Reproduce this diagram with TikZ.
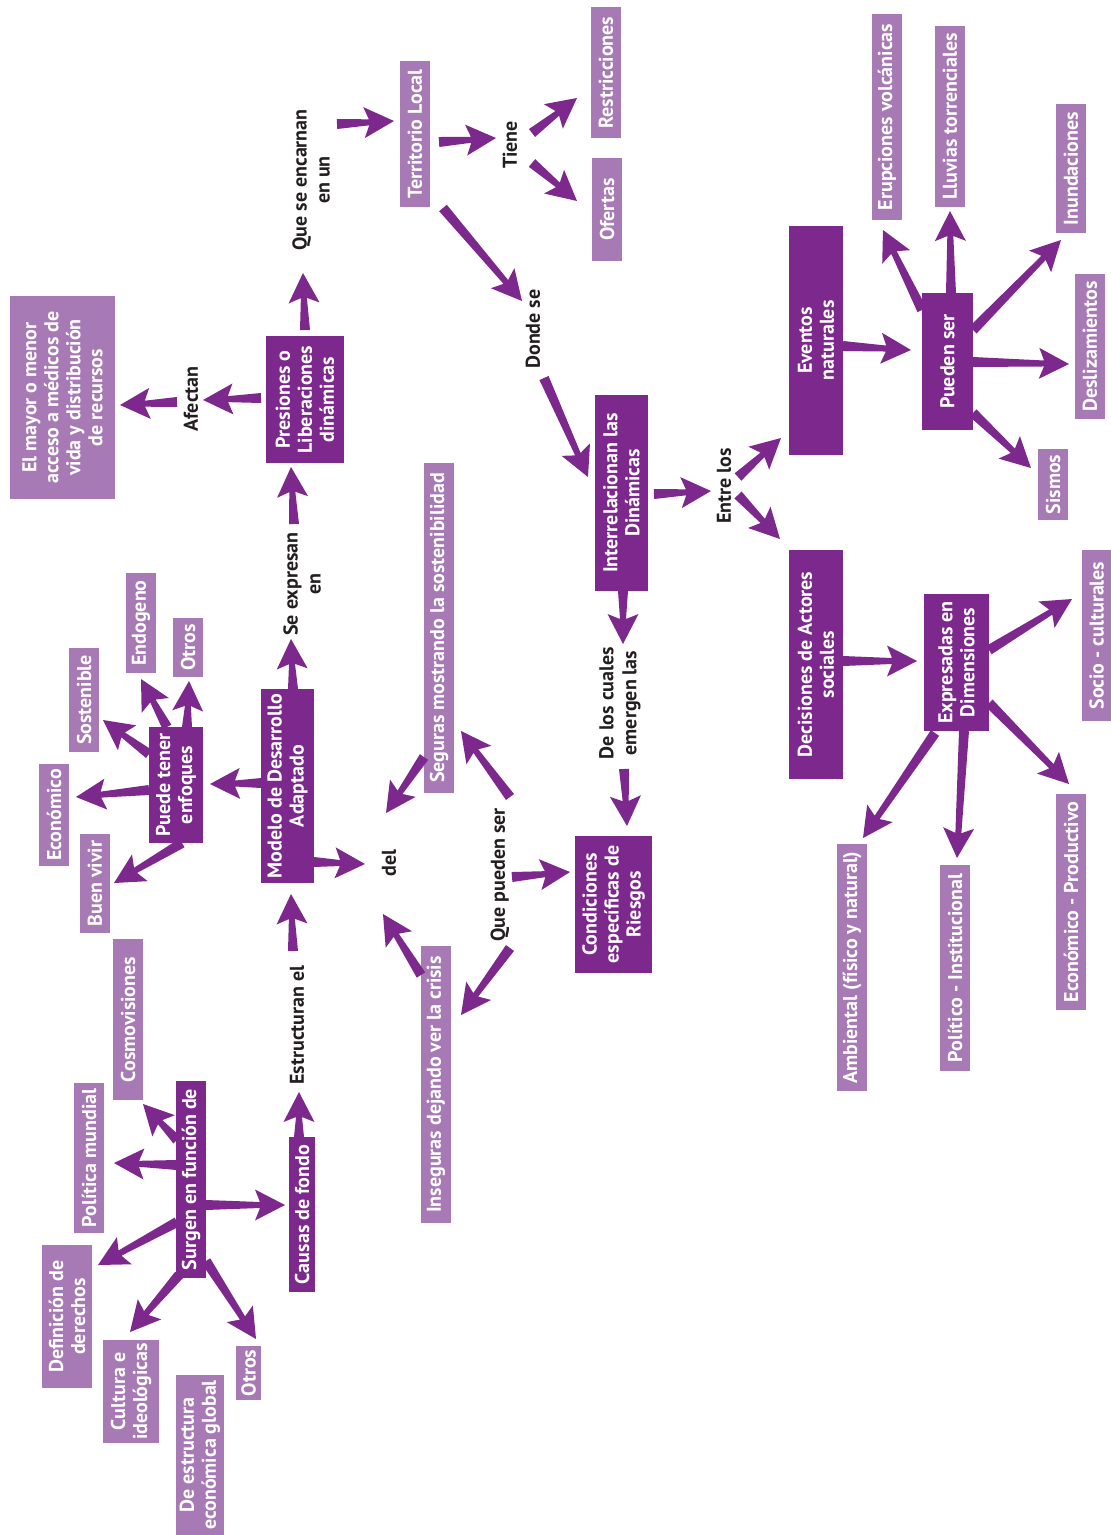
\documentclass[tikz,border=0pt]{standalone}
\usepackage{fontspec}
\setmainfont{PT Sans}
\usetikzlibrary{calc}
\definecolor{lboxc}{HTML}{A779B5}
\definecolor{dboxc}{HTML}{7D288C}
\definecolor{arrc}{HTML}{7D288C}
\definecolor{inkc}{HTML}{231F20}
\newcommand\arTw{5pt}
\newcommand\arNw{3pt}
\newcommand\arHl{30pt}
\newcommand\arHw{15.5pt}
\newcommand\arNd{25pt}
\newcommand\tarr[2]{%
  \path (#1) coordinate (ta) (#2) coordinate (tb);
  \fill[arrc] ($(ta)!\arTw!90:(tb)$)
    -- ($(tb)!\arNd!(ta)!\arNw!90:(tb)$)
    -- ($(tb)!\arHl!(ta)!\arHw!90:(tb)$)
    -- (tb)
    -- ($(tb)!\arHl!(ta)!\arHw!-90:(tb)$)
    -- ($(tb)!\arNd!(ta)!\arNw!-90:(tb)$)
    -- ($(ta)!\arTw!-90:(tb)$) -- cycle;}
\tikzset{
  bx/.style 2 args={minimum width=#1pt, minimum height=#2pt},
  basebox/.style={rotate=90, inner sep=0pt, align=center, text=white,
    font=\fontsize{20}{22}\selectfont\bfseries},
  lb/.style={basebox, fill=lboxc},
  db/.style={basebox, fill=dboxc},
  lab/.style={rotate=90, inner sep=0pt, align=center, text=inkc,
    font=\fontsize{20}{23}\selectfont\bfseries},
}
\begin{document}
\begin{tikzpicture}[x=1pt, y=-1pt]
\fill[white] (0,0) rectangle (1111,1535);
\useasboundingbox (0,0) rectangle (1111,1535);

% light boxes
\node[lb, bx={146}{30}] (terr) at (415,134) {Territorio Local};
\node[lb, bx={131}{30}] (restr) at (606,72.5) {Restricciones};
\node[lb, bx={103}{30}] (ofer) at (607,209.5) {Ofertas};
\node[lb, bx={206}{30}] (erup) at (887,117) {Erupciones volcánicas};
\node[lb, bx={181}{30}] (lluv) at (950,116.5) {Lluvias torrenciales};
\node[lb, bx={129}{30}] (inun) at (1071,168.5) {Inundaciones};
\node[lb, bx={145}{30}] (desl) at (1090,346.5) {Deslizamientos};
\node[lb, bx={71}{30}] (sism) at (1053,484.5) {Sismos};
\node[lb, bx={171}{29}] (socio) at (1096.5,635.5) {Socio - culturales};
\node[lb, bx={216}{30}] (econp) at (1071,902) {Económico - Productivo};
\node[lb, bx={206}{30}] (polit) at (955,968) {Político - Institucional};
\node[lb, bx={247}{30}] (amb) at (852,967.5) {Ambiental (físico y natural)};
\node[lb, bx={330}{30}] (seg) at (439,628) {Seguras mostrando la sostenibilidad};
\node[lb, bx={277}{30}] (inseg) at (436,1084.5) {Inseguras dejando ver la crisis};
\node[lb, bx={203}{105}] (elmay) at (62.5,397.5) {El mayor o menor\\acceso a médicos de\\vida y distribución\\de recursos};
\node[lb, bx={104}{30}] (sost) at (84,700) {Sostenible};
\node[lb, bx={100}{30}] (endo) at (141,623) {Endogeno};
\node[lb, bx={59}{30}] (otrosa) at (188,647.5) {Otros};
\node[lb, bx={102}{30}] (econ) at (54,815) {Económico};
\node[lb, bx={99}{30}] (buen) at (95,883.5) {Buen vivir};
\node[lb, bx={161}{30}] (cosmo) at (128,1019.5) {Cosmovisiones};
\node[lb, bx={150}{30}] (polm) at (89,1158) {Política mundial};
\node[lb, bx={143}{50}] (defd) at (67,1316.5) {Definición de\\derechos};
\node[lb, bx={103}{56}] (cult) at (131,1391.5) {Cultura e\\ideológicas};
\node[lb, bx={160}{48}] (dee) at (200,1455) {De estructura\\económica global};
\node[lb, bx={54}{25}] (otrosb) at (248.5,1373) {Otros};

% dark boxes
\node[db, bx={127}{78}] (pres) at (305,399.5) {Presiones o\\Liberaciones\\dinámicas};
\node[db, bx={196}{53}] (inter) at (621.5,493) {Interrelacionan las\\Dinámicas};
\node[db, bx={229}{54}] (event) at (816,340.5) {Eventos\\naturales};
\node[db, bx={137}{51}] (pued) at (947.5,361.5) {Pueden ser};
\node[db, bx={229}{54}] (decis) at (816,664.5) {Decisiones de Actores\\sociales};
\node[db, bx={137}{65}] (expr) at (956.5,662.5) {Expresadas en\\Dimensiones};
\node[db, bx={137}{77}] (cond) at (613.5,904.5) {Condiciones\\específicas de\\Riesgos};
\node[db, bx={194}{53}] (model) at (287.5,786) {Modelo de Desarrollo\\Adaptado};
\node[db, bx={116}{54}] (puede) at (176,785) {Puede tener\\enfoques};
\node[db, bx={155}{26}] (causas) at (302,1214.5) {Causas de fondo};
\node[db, bx={197}{30}] (surgen) at (191,1179.5) {Surgen en función de};

% labels
\node[lab] (encarn) at (311,180) {Que se encarnan\\en un};
\node[lab] (tiene) at (510,145) {Tiene};
\node[lab] (donde) at (533,329) {Donde se};
\node[lab] (entre) at (724,486) {Entre los};
\node[lab] (delos) at (620,703) {De los cuales\\emergen las};
\node[lab] (quep) at (500,875) {Que pueden ser};
\node[lab] (del) at (389,863) {del};
\node[lab] (sexp) at (302,584) {Se expresan\\en};
\node[lab] (afect) at (191,399) {Afectan};
\node[lab] (estr) at (297,1025) {Estructuran el};

% connectors
\tarr{$(encarn)+(26,-56)$}{$(terr)+(-21,-13)$}
\tarr{$(terr)+(24,8)$}{$(tiene)+(-14,-7)$}
\tarr{$(tiene)+(22,-12)$}{$(restr)+(-29,25.5)$}
\tarr{$(tiene)+(22,18)$}{$(ofer)+(-30,-8.5)$}
\tarr{$(terr)+(28,74)$}{$(donde)+(-11,-28)$}
\tarr{$(donde)+(11,49)$}{$(inter)+(-33.5,-16)$}
\tarr{$(inter)+(32.5,1)$}{$(entre)+(-13,5)$}
\tarr{$(entre)+(14,-9)$}{$(event)+(-35,97.5)$}
\tarr{$(entre)+(14,9)$}{$(decis)+(-36,-125.5)$}
\tarr{$(event)+(27,5.5)$}{$(pued)+(-36.5,-11.5)$}
\tarr{$(pued)+(-25.5,-51.5)$}{$(erup)+(-4,113)$}
\tarr{$(pued)+(3.5,-68.5)$}{$(lluv)+(0,94.5)$}
\tarr{$(pued)+(25.5,-31.5)$}{$(inun)+(-10,71.5)$}
\tarr{$(pued)+(25.5,0.5)$}{$(desl)+(-21,17.5)$}
\tarr{$(pued)+(25.5,51.5)$}{$(sism)+(-22,-16.5)$}
\tarr{$(decis)+(27,-3.5)$}{$(expr)+(-39.5,-1.5)$}
\tarr{$(expr)+(32.5,-12.5)$}{$(socio)+(-24.5,-36.5)$}
\tarr{$(expr)+(32.5,40.5)$}{$(econp)+(-2,-118)$}
\tarr{$(expr)+(7.5,68.5)$}{$(polit)+(2,-110)$}
\tarr{$(expr)+(-21.5,70.5)$}{$(amb)+(11,-129.5)$}
\tarr{$(inter)+(1.5,98)$}{$(delos)+(3,-59)$}
\tarr{$(delos)+(4,66)$}{$(cond)+(13.5,-78.5)$}
\tarr{$(quep)+(12,2)$}{$(cond)+(-43.5,-32.5)$}
\tarr{$(quep)+(10,-78)$}{$(seg)+(22,103)$}
\tarr{$(quep)+(10,73)$}{$(inseg)+(25,-69.5)$}
\tarr{$(seg)+(-15,129)$}{$(del)+(-3,-50)$}
\tarr{$(inseg)+(-15,-109.5)$}{$(del)+(-6,51)$}
\tarr{$(model)+(26.5,76)$}{$(del)+(-24,1)$}
\tarr{$(model)+(5.5,-97)$}{$(sexp)+(-11,55)$}
\tarr{$(sexp)+(-8,-60)$}{$(pres)+(-14,67.5)$}
\tarr{$(pres)+(0,-69.5)$}{$(encarn)+(-8,93)$}
\tarr{$(pres)+(-44,-1.5)$}{$(afect)+(12,1)$}
\tarr{$(afect)+(-14,3)$}{$(elmay)+(57.5,7.5)$}
\tarr{$(model)+(-26.5,-3)$}{$(puede)+(34,-1)$}
\tarr{$(puede)+(-27,-31)$}{$(sost)+(19,20)$}
\tarr{$(puede)+(-9,-58)$}{$(endo)+(0,56)$}
\tarr{$(puede)+(11,-58)$}{$(otrosa)+(1,33.5)$}
\tarr{$(puede)+(-27,5)$}{$(econ)+(22,-18)$}
\tarr{$(puede)+(6,58)$}{$(buen)+(19,-0.5)$}
\tarr{$(estr)+(-4,-74)$}{$(model)+(3.5,108)$}
\tarr{$(causas)+(-3,-77.5)$}{$(estr)+(2,67)$}
\tarr{$(surgen)+(15,25.5)$}{$(causas)+(-17,-9.5)$}
\tarr{$(surgen)+(-14,-39.5)$}{$(cosmo)+(15,84.5)$}
\tarr{$(surgen)+(-14,-14.5)$}{$(polm)+(25,5)$}
\tarr{$(surgen)+(-14,42.5)$}{$(defd)+(31,-51.5)$}
\tarr{$(surgen)+(-12,95.5)$}{$(cult)+(-1,-59.5)$}
\tarr{$(surgen)+(15,81.5)$}{$(otrosb)+(7.5,-34)$}
\end{tikzpicture}
\end{document}
